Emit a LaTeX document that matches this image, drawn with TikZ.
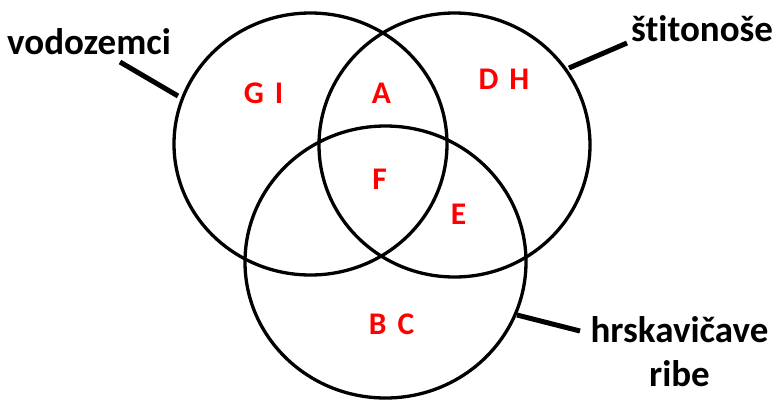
\documentclass[tikz,border=0pt]{standalone}
\usepackage{fontspec}
\setmainfont{Carlito}[Ligatures=NoCommon]
\begin{document}
\begin{tikzpicture}[x=1pt,y=-1pt,
  ring/.style={line width=3.3pt},
  leader/.style={line width=5pt},
  setlabel/.style={font=\fontsize{37}{44}\selectfont\bfseries, text=black, inner sep=0pt},
  member/.style={font=\fontsize{31.5}{36}\selectfont\bfseries, text=red, inner sep=0pt}]
\useasboundingbox (0,0) rectangle (777,400);
% circles
\coordinate (cL) at (310.5,144);
\coordinate (cR) at (454.5,145);
\coordinate (cB) at (385.5,262);
\draw[ring] (cL) ellipse (136.5 and 131);
\draw[ring] (cR) ellipse (135.5 and 132);
\draw[ring] (cB) ellipse (140.5 and 136);
% labels
\node[setlabel, anchor=base west] (vod) at (7,54) {vodozemci};
\node[setlabel, anchor=base west] (sti) at (631,41) {štitonoše};
\node[setlabel, anchor=base, align=center] (hrs) at (679.5,386) {hrskavičave\\ribe};
% leader lines
\coordinate (vodA) at (120,62);
\coordinate (vodB) at (178,96);
\coordinate (stiA) at (627,43);
\coordinate (stiB) at (569,68);
\coordinate (hrsA) at (580,331);
\coordinate (hrsB) at (517,315);
\draw[leader] (vodA) -- (vodB);
\draw[leader] (stiA) -- (stiB);
\draw[leader] (hrsA) -- (hrsB);
% members
\node[member] (gi) at (263.5,93) {G\hspace{0.35em}I};
\node[member] (a) at (381.5,93) {A};
\node[member] (dh) at (504,79) {D\hspace{0.35em}H};
\node[member] (f) at (379.5,179) {F};
\node[member] (e) at (458.5,214.5) {E};
\node[member] (bc) at (391.5,324.5) {B\hspace{0.35em}C};
\end{tikzpicture}
\end{document}
